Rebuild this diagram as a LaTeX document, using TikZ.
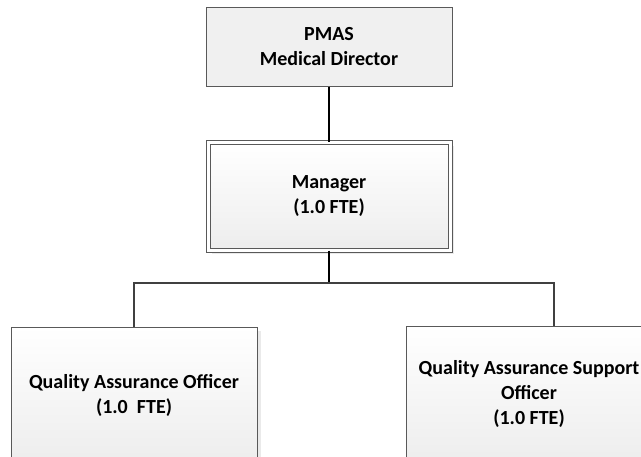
\documentclass[tikz,border=0pt]{standalone}
\usepackage{fontspec}
\setmainfont{Carlito}
\usetikzlibrary{positioning,shadows}
\tikzset{
  post/.style={draw=black!65, line width=1pt, minimum width=246pt, align=center,
    font=\fontsize{20}{25}\selectfont\bfseries},
  head post/.style={post, fill=black!6, minimum height=79pt},
  staff post/.style={post, top color=white, bottom color=black!7,
    drop shadow={shadow xshift=4pt, shadow yshift=-4pt, fill=black!16, opacity=.5}},
  link/.style={draw=black, line width=1.5pt},
  bus/.style={draw=black!75, line width=2pt},
}
\begin{document}
\begin{tikzpicture}[x=1pt,y=-1pt]
  \clip (0,0) rectangle (641,456);
  \node[head post] (pmas) at (329,46.5) {PMAS\\Medical Director};
  \node[staff post, minimum width=242pt, minimum height=108pt,
    double=white, double distance=3pt] (mgr) at (329,196) {Manager\\(1.0 FTE)};
  \node[staff post, minimum height=136pt] (qao) at (134,395) {Quality Assurance Officer\\(1.0\ \ FTE)};
  \node[staff post, minimum height=136pt] (qaso) at (529,394) {Quality Assurance Support\\Officer\\(1.0 FTE)};
  \coordinate (split) at (329,283);
  \draw[link] (pmas) -- (mgr);
  \draw[link] (mgr.south) -- (split);
  \draw[bus] (qao.north) |- (split) -| ([xshift=25pt]qaso.north);
\end{tikzpicture}
\end{document}
